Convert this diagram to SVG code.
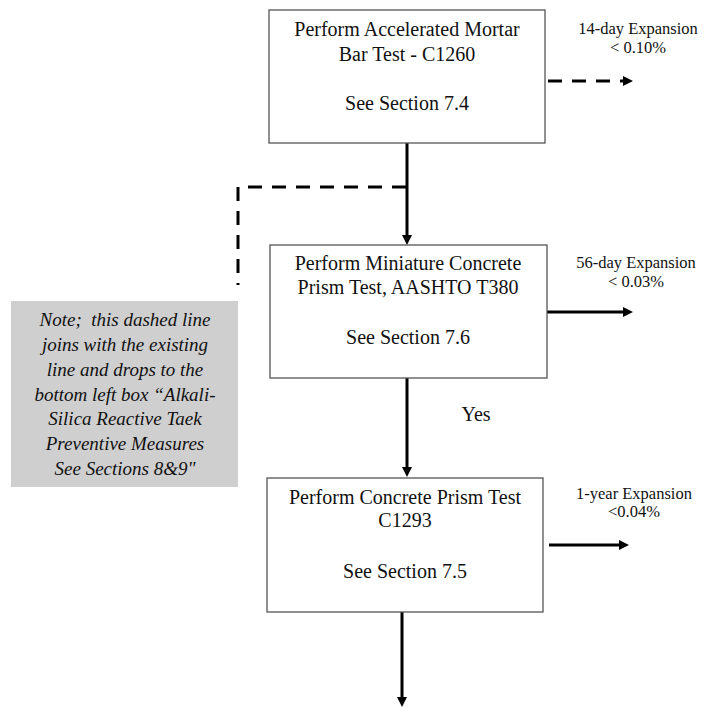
<svg xmlns="http://www.w3.org/2000/svg" width="704" height="707" viewBox="0 0 704 707">
<style>
.box{fill:#fff;stroke:#555;stroke-width:1.3}
.t{font-family:"Liberation Serif","Times New Roman",serif;font-size:20px;fill:#111;text-anchor:middle}
.lbl{font-family:"Liberation Serif","Times New Roman",serif;font-size:16.5px;fill:#111;text-anchor:middle}
.note{font-family:"Liberation Serif","Times New Roman",serif;font-size:19px;font-style:italic;fill:#111;text-anchor:middle}
.c{fill:none;stroke:#000;stroke-width:3}
.d{stroke-dasharray:14 10}
</style>
<defs>
<marker id="ah" markerUnits="userSpaceOnUse" markerWidth="10" markerHeight="10" refX="0" refY="5" orient="auto">
<path d="M0,0 L10,5 L0,10 z" fill="#000"/>
</marker>
</defs>
<rect width="704" height="707" fill="#fff"/>
<g id="connectors">
<line class="c" x1="407" y1="143" x2="407" y2="235" marker-end="url(#ah)"/>
<path class="c d" d="M406,187 H238 V285"/>
<line class="c d" x1="548" y1="81" x2="623" y2="81" marker-end="url(#ah)"/>
<line class="c" x1="547" y1="312" x2="623" y2="312" marker-end="url(#ah)"/>
<line class="c" x1="407" y1="378" x2="407" y2="467" marker-end="url(#ah)"/>
<line class="c" x1="549" y1="545" x2="619" y2="545" marker-end="url(#ah)"/>
<line class="c" x1="402" y1="612" x2="402" y2="697" marker-end="url(#ah)"/>
</g>
<g id="node-mortar">
<rect class="box" x="269" y="10" width="276" height="133"/>
<text class="t" x="407" y="36">Perform Accelerated Mortar</text>
<text class="t" x="407" y="61">Bar Test - C1260</text>
<text class="t" x="407" y="110">See Section 7.4</text>
</g>
<g id="label-14day">
<text class="lbl" x="638" y="34">14-day Expansion</text>
<text class="lbl" x="638" y="53">&lt; 0.10%</text>
</g>
<g id="node-miniature">
<rect class="box" x="270" y="245" width="277" height="133"/>
<text class="t" x="408" y="270">Perform Miniature Concrete</text>
<text class="t" x="408" y="294">Prism Test, AASHTO T380</text>
<text class="t" x="408" y="344">See Section 7.6</text>
</g>
<g id="label-56day">
<text class="lbl" x="636" y="268">56-day Expansion</text>
<text class="lbl" x="636" y="287">&lt; 0.03%</text>
</g>
<g id="note">
<rect x="11" y="301" width="227" height="186" fill="#cfcfcf"/>
<text class="note" x="125" y="326" xml:space="preserve">Note;  this dashed line</text>
<text class="note" x="125" y="351">joins with the existing</text>
<text class="note" x="125" y="375.5">line and drops to the</text>
<text class="note" x="125" y="400.5">bottom left box “Alkali-</text>
<text class="note" x="125" y="425">Silica Reactive Taek</text>
<text class="note" x="125" y="450">Preventive Measures</text>
<text class="note" x="125" y="475">See Sections 8&amp;9"</text>
</g>
<g id="label-yes">
<text class="t" x="476" y="421">Yes</text>
</g>
<g id="node-prism">
<rect class="box" x="267" y="478" width="276" height="134"/>
<text class="t" x="405" y="504">Perform Concrete Prism Test</text>
<text class="t" x="405" y="527">C1293</text>
<text class="t" x="405" y="578">See Section 7.5</text>
</g>
<g id="label-1year">
<text class="lbl" x="634" y="499">1-year Expansion</text>
<text class="lbl" x="634" y="517">&lt;0.04%</text>
</g>
</svg>
